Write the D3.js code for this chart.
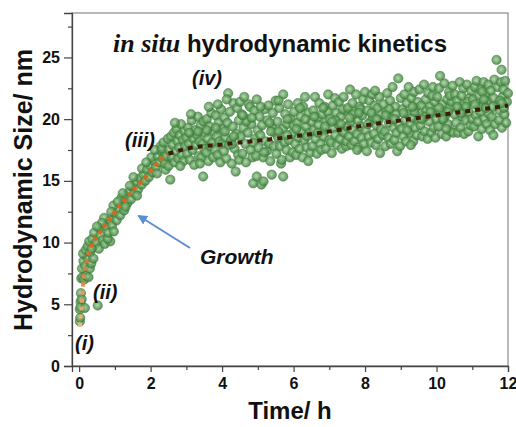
<html>
<head>
<script src="https://d3js.org/d3.v7.min.js"></script>
<style>
body { margin: 0; background: #fff; }
text { font-family: "Liberation Sans", Arial, sans-serif; }
</style>
</head>
<body>
<script>
// Width and height
var w = 516;
var h = 427;

var xTicks = [0, 2, 4, 6, 8, 10, 12];
var xMinor = [1, 3, 5, 7, 9, 11];
var yTicks = [0, 5, 10, 15, 20, 25];
var yMinor = [2.5, 7.5, 12.5, 17.5, 22.5, 27.5];

// early growth points (time h, size nm)
var earlyPts = [[0.02,3.6],[0.03,3.9],[0.02,4.6],[0.04,5.2],[0.05,5.9],[0.04,4.8],[0.07,5.4],[0.16,4.7],[0.52,4.9],
  [0.06,7.1],[0.1,7.2],[0.14,7.0],[0.19,7.3],[0.26,7.2],[0.08,7.9],[0.12,8.5],[0.17,8.1],[0.22,8.8],[0.3,7.9],[0.34,8.3],
  [0.11,9.1],[0.18,9.4],[0.24,9.7],[0.31,9.2],[0.4,8.7],[0.44,9.8],[0.28,10.1],[0.37,10.3],[0.48,10.0],[0.55,9.5],
  [0.42,10.8],[0.6,10.6],[0.66,10.2],[0.72,9.9],[0.87,10.1],[0.8,10.3],[0.57,11.2],[0.75,11.3],[0.82,10.8],[0.86,11.8],
  [0.92,11.4],[0.97,10.9],[0.7,12.0],[0.64,11.6],[1.0,12.4],[1.05,11.8],[1.1,12.7],[0.96,13.0],[1.15,12.2],[1.2,13.1],
  [1.26,12.6],[1.18,13.6],[1.3,13.8],[1.35,13.2],[1.4,14.1],[1.45,13.5],[1.5,14.5],[1.55,14.0],[1.6,14.9],[1.42,14.6],
  [1.65,14.3],[1.7,15.2],[1.75,14.7],[1.8,15.5],[1.85,15.0],[1.76,16.0],[1.9,15.9],[1.95,15.3],[2.0,16.2],[2.05,15.7],
  [2.1,16.6],[2.02,16.9],[2.15,16.1],[2.2,17.0],[2.25,16.5],[2.3,17.4],[2.35,16.8],[2.28,17.8],[2.4,17.2],[2.45,16.6],
  [2.12,17.5],[2.42,15.9],[1.62,13.8],[1.3,12.9],[1.08,13.3],[0.9,12.5],[1.52,15.3],[1.88,16.5],[2.18,15.6],[1.22,14.0],
  [0.5,11.3],[0.35,9.5]];

// slow growth points, 2.3 - 7 h
var midPts = [[2.32,17.6],[2.36,18.1],[2.4,16.4],[2.44,17.0],[2.48,18.4],[2.5,16.2],
  [2.52,17.5],[2.55,15.1],[2.57,18.6],[2.6,16.9],[2.62,17.9],[2.65,18.9],[2.67,16.5],[2.7,17.4],[2.72,19.2],[2.75,18.2],
  [2.77,16.8],[2.8,17.7],[2.82,18.7],[2.85,19.6],[2.87,17.1],[2.9,18.3],[2.92,16.6],[2.95,19.0],[2.97,17.8],[3.0,18.5],[2.68,19.7],[2.83,16.2],
  [3.02,17.2],[3.05,19.3],[3.07,18.0],[3.1,16.7],[3.12,18.8],[3.15,19.9],[3.17,17.5],[3.2,18.4],[3.22,16.3],[3.25,19.1],
  [3.27,17.9],[3.3,18.7],[3.32,20.2],[3.35,17.0],[3.37,18.2],[3.4,19.5],[3.42,16.9],[3.45,18.0],[3.47,15.35],[3.48,19.8],[3.5,17.6],[3.13,20.4],[3.38,16.4],
  [3.52,18.9],[3.55,17.3],[3.57,20.0],[3.6,18.4],[3.62,16.6],[3.65,19.4],[3.67,17.8],[3.7,20.5],[3.72,18.1],[3.75,16.9],
  [3.77,19.0],[3.8,17.5],[3.82,20.3],[3.85,18.6],[3.87,17.1],[3.9,19.7],[3.92,18.2],[3.95,16.5],[3.97,20.8],[4.0,18.0],[3.63,21.0],[3.88,21.2],
  [4.02,19.2],[4.05,17.4],[4.07,20.1],[4.1,18.5],[4.12,16.8],[4.15,19.7],[4.17,22.1],[4.2,17.9],[4.22,20.6],[4.25,18.3],
  [4.27,16.4],[4.3,19.4],[4.32,21.3],[4.35,17.6],[4.38,15.75],[4.4,18.8],[4.42,20.9],[4.45,17.1],[4.47,19.9],[4.5,21.4],[4.13,21.6],[4.28,18.0],[4.48,16.7],
  [4.52,18.6],[4.55,20.4],[4.57,17.2],[4.6,19.3],[4.62,21.8],[4.65,18.0],[4.67,16.5],[4.7,20.0],[4.72,18.9],[4.75,21.2],
  [4.78,21.0],[4.8,17.5],[4.82,19.6],[4.85,16.9],[4.87,14.8],[4.9,20.7],[4.92,18.4],[4.95,17.0],[4.97,21.6],[5.0,19.1],[4.97,15.35],[4.68,19.8],[4.88,18.1],
  [5.02,17.7],[5.05,20.2],[5.07,18.7],[5.1,14.7],[5.12,19.5],[5.15,16.9],[5.16,14.95],[5.2,20.8],[5.22,18.2],[5.25,17.4],
  [5.27,19.9],[5.3,21.1],[5.32,18.0],[5.35,16.6],[5.39,15.5],[5.4,19.3],[5.42,20.5],[5.45,17.8],[5.47,18.9],[5.5,21.5],[5.18,17.3],[5.37,19.0],
  [5.52,17.2],[5.55,19.8],[5.57,18.5],[5.6,20.9],[5.62,17.8],[5.65,16.4],[5.67,16.7],[5.7,19.2],[5.71,22.0],[5.71,15.35],
  [5.75,18.1],[5.77,20.4],[5.8,17.5],[5.82,19.6],[5.85,21.2],[5.87,18.3],[5.9,16.9],[5.92,20.0],[5.95,18.8],[5.97,17.3],[6.0,19.5],[5.58,21.5],[5.83,18.7],
  [6.02,20.6],[6.05,18.0],[6.07,17.1],[6.1,19.7],[6.12,21.3],[6.15,18.5],[6.17,17.6],[6.2,20.2],[6.22,19.0],[6.25,16.9],
  [6.27,21.0],[6.3,18.3],[6.32,21.8],[6.35,19.4],[6.37,17.7],[6.41,16.6],[6.42,20.5],[6.45,18.9],[6.47,17.3],[6.5,19.8],[6.18,20.9],[6.38,18.6],
  [6.52,17.8],[6.55,20.7],[6.57,19.1],[6.6,21.8],[6.62,18.4],[6.65,17.2],[6.67,20.1],[6.7,19.5],[6.72,21.3],[6.75,18.0],
  [6.77,17.5],[6.8,20.4],[6.82,19.0],[6.85,18.6],[6.87,21.0],[6.9,17.6],[6.92,19.8],[6.95,20.6],[6.97,22.0],[7.0,18.3],[6.68,18.9],[6.88,19.4],
  [3.08,18.9],[3.33,19.0],[3.58,19.1],[3.83,19.3],[4.08,19.0],[4.33,18.6],[4.58,20.3],[4.83,20.1],[5.08,21.0],[5.33,19.7],
  [5.58,19.0],[5.83,20.0],[6.08,19.2],[6.33,20.0],[6.58,20.2],[6.83,20.9]];

// slow growth points, 7 - 12 h
var latePts = [[7.02,20.0],[7.05,18.1],[7.07,17.25],[7.1,21.1],[7.12,19.3],[7.16,21.7],[7.17,18.7],[7.2,20.5],[7.22,17.9],[7.25,19.6],
  [7.27,21.4],[7.3,18.4],[7.32,20.2],[7.35,17.6],[7.37,19.0],[7.4,21.8],[7.42,18.9],[7.45,20.7],[7.47,17.8],[7.5,19.4],[7.18,19.9],[7.38,20.8],[7.48,18.2],
  [7.52,20.9],[7.55,18.6],[7.58,22.4],[7.6,19.8],[7.62,17.9],[7.65,21.3],[7.67,19.1],[7.7,18.2],[7.72,20.6],[7.75,22.0],
  [7.77,18.8],[7.8,19.9],[7.82,17.7],[7.85,21.0],[7.87,19.4],[7.9,18.5],[7.92,20.3],[7.95,21.6],[7.97,18.0],[8.0,22.2],[7.68,20.4],[7.88,20.8],[7.78,17.5],
  [8.02,19.1],[8.05,17.4],[8.07,20.7],[8.1,18.6],[8.12,21.5],[8.15,19.8],[8.17,18.1],[8.2,22.0],[8.22,20.2],[8.25,18.8],
  [8.27,21.1],[8.3,17.9],[8.32,19.5],[8.35,20.9],[8.37,18.4],[8.42,17.25],[8.4,21.8],[8.45,19.2],[8.47,20.4],[8.5,18.7],[8.18,20.5],[8.38,19.9],[8.28,22.3],
  [8.52,21.2],[8.55,19.0],[8.57,17.8],[8.6,20.6],[8.62,22.1],[8.65,18.5],[8.67,19.7],[8.7,21.5],[8.72,18.0],[8.75,20.1],
  [8.77,22.6],[8.8,19.3],[8.82,18.3],[8.85,21.0],[8.87,20.4],[8.9,17.4],[8.93,23.3],[8.95,19.6],[8.98,17.8],[9.0,21.7],[8.68,20.8],[8.88,18.9],
  [9.02,19.2],[9.05,20.8],[9.07,18.6],[9.1,22.0],[9.12,19.9],[9.15,18.2],[9.17,21.3],[9.2,20.4],[9.22,22.6],[9.25,18.9],
  [9.27,19.6],[9.3,21.7],[9.32,20.1],[9.35,18.2],[9.37,22.2],[9.4,19.3],[9.42,20.9],[9.45,18.7],[9.47,21.4],[9.5,20.0],[9.18,19.1],[9.38,20.6],[9.28,17.9],
  [9.52,22.4],[9.55,19.5],[9.57,21.1],[9.6,18.6],[9.62,20.3],[9.65,22.8],[9.67,19.0],[9.7,21.6],[9.72,20.7],[9.75,18.4],
  [9.77,22.1],[9.8,19.8],[9.82,21.0],[9.85,18.9],[9.87,20.5],[9.9,22.6],[9.92,19.3],[9.95,21.4],[9.97,18.5],[10.0,20.0],[9.68,20.2],[9.88,21.9],
  [10.02,21.8],[10.05,19.4],[10.07,22.5],[10.1,23.5],[10.12,20.6],[10.15,18.8],[10.17,21.2],[10.2,19.9],[10.22,22.9],[10.25,20.3],
  [10.27,18.6],[10.3,21.6],[10.32,19.6],[10.35,22.2],[10.37,20.9],[10.4,19.0],[10.42,21.4],[10.45,22.7],[10.47,18.9],[10.5,20.4],[10.18,20.0],[10.38,21.9],[10.28,19.2],
  [10.52,22.0],[10.55,19.7],[10.57,21.5],[10.6,18.9],[10.62,20.8],[10.65,23.0],[10.67,19.3],[10.7,21.9],[10.72,20.2],[10.75,22.5],
  [10.77,18.8],[10.8,21.2],[10.82,19.9],[10.85,22.8],[10.89,19.0],[10.9,20.6],[10.92,21.7],[10.95,19.5],[10.97,22.3],[11.0,20.0],[10.68,20.5],[10.88,21.4],
  [11.02,21.6],[11.05,19.4],[11.07,22.6],[11.1,20.3],[11.12,23.1],[11.15,19.8],[11.17,18.6],[11.2,21.9],[11.22,20.6],[11.25,22.4],
  [11.27,19.2],[11.3,21.3],[11.32,23.0],[11.35,20.0],[11.37,22.0],[11.4,19.6],[11.42,21.5],[11.45,22.8],[11.47,20.4],[11.5,19.1],[11.18,21.0],[11.38,20.9],[11.28,22.2],
  [11.52,22.3],[11.55,20.2],[11.59,18.7],[11.6,21.7],[11.62,23.2],[11.65,19.6],[11.68,24.8],[11.7,21.1],[11.72,22.6],[11.75,19.9],
  [11.77,20.7],[11.8,23.0],[11.82,24.0],[11.83,19.3],[11.85,21.8],[11.87,22.4],[11.9,20.4],[11.92,23.1],[11.95,19.7],[11.97,21.4],[12.0,22.1],[11.78,21.5],[11.88,20.9],
  [7.08,19.8],[7.33,19.6],[7.58,20.1],[7.83,20.5],[8.08,19.6],[8.33,20.0],[8.58,20.3],[8.83,20.0],[9.08,20.5],[9.33,21.0],
  [9.58,20.0],[9.83,20.6],[10.08,20.9],[10.33,20.6],[10.58,21.0],[10.83,21.0],[11.08,21.2],[11.33,21.6],[11.58,21.0],[11.83,21.3]];

// fitted curves
var fitFast = [[0.02,3.2],[0.05,4.2],[0.08,5.2],[0.12,7.0],[0.18,8.1],[0.25,9.0],[0.35,9.8],[0.5,10.5],[0.65,11.1],
  [0.9,12.1],[1.2,13.2],[1.5,14.2],[1.7,14.8],[2.0,15.8],[2.2,16.5],[2.45,17.15]];
var fitSlow = [[2.5,17.2],[3,17.6],[4,17.95],[5,18.25],[6,18.6],[7,19.0],[8,19.5],[9,19.9],[10,20.3],[11,20.7],[12,21.1]];

var stageLabels = [
  {text: "(i)", x: 75, y: 350},
  {text: "(ii)", x: 93, y: 299},
  {text: "(iii)", x: 125, y: 147},
  {text: "(iv)", x: 192, y: 85}
];

var svg = d3.select("body").append("svg")
  .attr("width", w)
  .attr("height", h);

var x = d3.scaleLinear().domain([-0.2, 12]).range([72, 508]);
var y = d3.scaleLinear().domain([0, 28.6]).range([366, 13]);

var defs = svg.append("defs");
var grad = defs.append("radialGradient").attr("id", "ball")
  .attr("cx", "45%").attr("cy", "45%").attr("r", "55%");
grad.append("stop").attr("offset", "0%").attr("stop-color", "#a3cf9c");
grad.append("stop").attr("offset", "55%").attr("stop-color", "#65a060");
grad.append("stop").attr("offset", "100%").attr("stop-color", "#387836");

var og = defs.append("linearGradient").attr("id", "orangeFit")
  .attr("gradientUnits", "userSpaceOnUse")
  .attr("x1", 0).attr("x2", 0).attr("y1", y(3)).attr("y2", y(10));
og.append("stop").attr("offset", "0%").attr("stop-color", "#f6b889");
og.append("stop").attr("offset", "100%").attr("stop-color", "#d9661c");

// frame
svg.append("rect")
  .attr("x", 72).attr("y", 13)
  .attr("width", 436).attr("height", 353)
  .attr("fill", "none").attr("stroke", "#8a8a8a").attr("stroke-width", 1.2);

// points
var allPts = earlyPts.concat(midPts, latePts);
svg.append("g").selectAll("circle")
  .data(allPts)
  .enter().append("circle")
  .attr("cx", function(d) { return x(d[0]); })
  .attr("cy", function(d) { return y(d[1]); })
  .attr("r", 4.7)
  .attr("fill", "url(#ball)")
  .attr("fill-opacity", 0.82)
  .attr("stroke", "#41813f")
  .attr("stroke-opacity", 0.65)
  .attr("stroke-width", 0.8);

var line = d3.line()
  .x(function(d) { return x(d[0]); })
  .y(function(d) { return y(d[1]); })
  .curve(d3.curveMonotoneX);

svg.append("path")
  .attr("d", line(fitFast))
  .attr("fill", "none")
  .attr("stroke", "url(#orangeFit)")
  .attr("stroke-width", 4)
  .attr("stroke-dasharray", "4,4");

svg.append("path")
  .attr("d", line(fitSlow))
  .attr("fill", "none")
  .attr("stroke", "#3d1c0c")
  .attr("stroke-width", 4)
  .attr("stroke-dasharray", "5,5");

// axes
svg.append("g")
  .attr("transform", "translate(0,366)")
  .call(d3.axisBottom(x).tickValues(xTicks).tickSize(6).tickPadding(6).tickFormat(d3.format("d")));
svg.append("g")
  .attr("transform", "translate(0,366)")
  .call(d3.axisBottom(x).tickValues(xMinor).tickSize(4).tickFormat(""))
  .select(".domain").remove();

svg.append("g")
  .attr("transform", "translate(72,0)")
  .call(d3.axisLeft(y).tickValues(yTicks).tickSize(8).tickPadding(4));
svg.append("g")
  .attr("transform", "translate(72,0)")
  .call(d3.axisLeft(y).tickValues(yMinor).tickSize(4).tickFormat(""))
  .select(".domain").remove();

svg.selectAll(".domain").attr("stroke", "#444").attr("stroke-width", 1.3);
svg.selectAll(".tick line").attr("stroke", "#444").attr("stroke-width", 1.2);
svg.selectAll(".tick text")
  .attr("font-family", "'Liberation Sans', Arial, sans-serif")
  .attr("font-size", 16)
  .attr("font-weight", "bold")
  .attr("fill", "#111");

// axis titles
svg.append("text")
  .attr("x", 290).attr("y", 419)
  .attr("text-anchor", "middle")
  .attr("font-size", 24).attr("font-weight", "bold")
  .attr("fill", "#111")
  .text("Time/ h");

svg.append("text")
  .attr("transform", "translate(32,190) rotate(-90)")
  .attr("text-anchor", "middle")
  .attr("font-size", 25).attr("font-weight", "bold")
  .attr("fill", "#111")
  .text("Hydrodynamic Size/ nm");

// title
var title = svg.append("text")
  .attr("x", 113).attr("y", 52)
  .attr("fill", "#111");
title.append("tspan")
  .attr("font-family", "'Liberation Serif', 'Times New Roman', serif")
  .attr("font-style", "italic").attr("font-weight", "bold")
  .attr("font-size", 26)
  .text("in situ");
title.append("tspan")
  .attr("font-size", 24).attr("font-weight", "bold")
  .text(" hydrodynamic kinetics");

// stage labels
svg.append("g").selectAll("text")
  .data(stageLabels)
  .enter().append("text")
  .attr("x", function(d) { return d.x; })
  .attr("y", function(d) { return d.y; })
  .attr("font-size", 20)
  .attr("font-weight", "bold")
  .attr("font-style", "italic")
  .attr("fill", "#111")
  .text(function(d) { return d.text; });

// growth arrow
defs.append("marker").attr("id", "arrowHead")
  .attr("viewBox", "0 0 10 10").attr("refX", 8).attr("refY", 5)
  .attr("markerWidth", 5).attr("markerHeight", 5)
  .attr("orient", "auto")
  .append("path").attr("d", "M0,0 L10,5 L0,10 z").attr("fill", "#5b8fd0");

svg.append("line")
  .attr("x1", 190).attr("y1", 248)
  .attr("x2", 139).attr("y2", 216)
  .attr("stroke", "#5b8fd0").attr("stroke-width", 2)
  .attr("marker-end", "url(#arrowHead)");

svg.append("text")
  .attr("x", 200).attr("y", 264)
  .attr("font-size", 21)
  .attr("font-weight", "bold")
  .attr("font-style", "italic")
  .attr("fill", "#111")
  .text("Growth");
</script>
</body>
</html>
